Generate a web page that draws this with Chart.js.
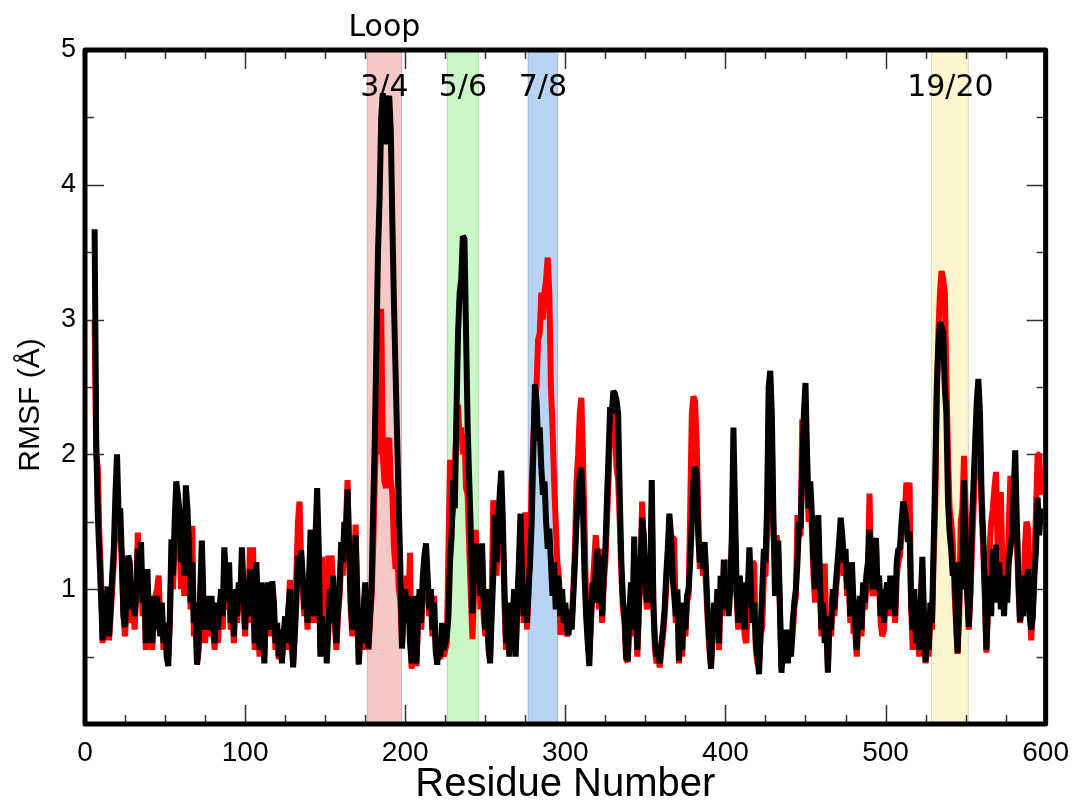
<!DOCTYPE html>
<html>
<head>
<meta charset="utf-8">
<script src="https://cdn.jsdelivr.net/npm/chart.js@4.4.1/dist/chart.umd.min.js"></script>
<style>
html,body{margin:0;padding:0;background:#fff;}
#wrap{width:1081px;height:805px;}
</style>
</head>
<body>
<div id="wrap"><canvas id="c" width="1081" height="805"></canvas></div>
<script>
// ---------------- data ----------------
const firstResidue = 6;

const rmsfBlack = [
3.67,2.1,1.55,1.25,0.95,0.62,0.9,0.75,1.02,0.65,
0.85,1.1,1.3,1.7,2.0,1.55,1.6,1.25,0.8,0.72,
0.95,1.25,1.2,0.85,1.05,0.8,0.95,1.3,1.0,1.35,
0.9,1.1,0.6,1.15,0.75,0.95,0.6,0.85,0.7,0.95,
0.8,0.65,0.9,0.6,0.75,0.5,0.43,0.8,1.37,1.1,
1.5,1.8,1.7,1.58,1.2,1.45,1.1,1.77,1.6,1.3,
0.9,1.2,0.75,0.9,0.44,0.6,1.0,1.36,0.9,0.7,
0.95,0.8,0.7,0.95,0.75,0.6,0.9,0.7,0.85,1.0,
0.8,1.31,1.1,0.9,1.2,0.75,0.95,0.65,1.0,0.8,
1.05,0.9,1.31,1.0,0.7,1.05,0.85,1.15,0.8,1.0,
0.6,1.2,0.9,0.55,1.05,0.8,0.45,0.9,1.05,0.7,
0.85,1.06,0.9,0.6,0.75,0.5,0.7,0.45,0.65,0.8,
0.6,0.85,1.0,0.7,0.42,0.65,0.9,1.25,1.05,1.29,
1.1,0.85,1.0,0.75,1.1,1.44,1.2,0.8,1.4,1.75,
1.3,0.5,0.8,0.6,0.75,0.45,0.7,1.0,0.75,1.1,
0.8,0.6,0.85,1.0,1.35,1.2,1.5,1.4,1.74,1.3,
0.9,0.7,1.1,1.4,1.0,0.44,0.7,0.6,0.85,1.05,
0.75,0.56,0.8,1.0,1.6,2.1,2.8,3.5,3.9,4.5,
4.68,4.5,4.3,4.6,4.66,4.4,3.7,3.1,2.6,2.1,
1.6,1.15,0.56,0.85,1.0,0.75,0.95,0.6,0.45,0.7,
0.95,0.45,0.8,1.0,0.75,1.1,1.25,1.34,1.1,0.85,
1.0,0.7,0.9,0.55,0.44,0.6,0.5,0.75,0.55,0.6,
0.65,0.8,1.2,1.4,1.81,1.6,2.3,2.9,3.2,3.3,
3.62,3.6,2.9,2.2,1.8,1.42,0.82,1.1,1.34,1.1,
1.3,0.95,1.34,0.9,0.7,1.0,0.6,0.45,0.8,1.1,
1.55,1.2,1.5,1.7,1.88,1.5,1.0,0.6,0.8,0.5,
0.9,0.7,1.0,0.5,0.9,1.2,1.56,1.1,0.8,1.0,
0.75,1.0,1.2,1.5,2.0,2.52,2.4,2.1,2.2,1.9,
1.7,1.8,1.5,1.3,1.45,1.2,0.95,1.2,0.85,1.1,
1.05,0.8,1.0,0.75,0.9,0.7,0.66,0.85,0.7,0.95,
1.2,1.5,1.7,1.85,1.9,1.6,1.1,0.8,0.6,0.43,
0.8,1.05,0.9,1.15,1.3,0.9,1.25,0.8,1.1,1.3,
1.66,2.0,2.35,2.3,2.47,2.45,2.4,2.3,1.7,1.2,
0.92,0.8,0.5,0.47,0.8,1.05,0.7,1.39,0.9,0.55,
0.9,1.2,1.53,1.4,1.1,0.9,1.2,1.0,1.81,0.9,
0.6,0.5,0.55,0.45,0.6,0.7,0.85,1.1,1.3,1.56,
1.4,1.1,0.95,0.8,1.0,0.47,0.8,0.55,0.9,0.7,
0.95,1.0,1.2,1.5,1.8,1.91,1.85,1.4,1.2,1.3,
1.15,1.35,1.1,0.8,0.6,0.41,0.7,0.9,0.75,1.0,
0.6,1.1,0.85,1.22,0.9,1.1,0.8,1.0,1.4,2.2,
1.6,1.0,0.75,1.1,0.8,1.0,0.7,1.05,1.0,1.31,
1.0,0.75,0.9,0.6,0.5,0.37,0.7,1.0,1.3,1.2,
1.6,2.5,2.62,2.3,1.5,0.95,1.1,1.36,0.9,0.38,
0.6,0.5,0.7,0.45,0.65,0.5,0.75,0.9,1.0,1.2,
1.5,1.45,1.9,2.3,2.53,2.0,1.6,1.8,1.55,1.2,
1.0,1.3,1.55,1.1,0.7,0.9,0.6,0.75,0.38,0.8,
0.7,1.0,0.85,1.05,1.2,1.35,1.53,1.4,1.2,1.3,
1.0,1.15,0.8,1.2,0.9,0.75,0.55,0.8,0.95,0.7,
1.05,0.9,1.1,1.2,1.44,1.2,1.0,1.3,1.38,1.0,
1.1,0.8,1.0,0.75,0.95,1.05,0.85,1.1,0.9,1.05,
0.8,1.2,1.3,1.3,1.5,1.65,1.6,1.5,1.35,1.43,
0.9,0.7,1.0,0.6,0.8,0.55,0.9,1.24,0.8,0.46,
0.7,0.55,0.9,0.75,1.3,1.8,2.5,2.8,2.98,2.95,
2.9,2.5,2.3,1.66,1.42,1.3,1.1,1.2,0.8,0.53,
0.9,1.2,1.0,1.81,1.3,0.95,0.72,1.0,1.5,1.8,
2.1,2.4,2.56,2.3,1.7,1.4,1.0,0.55,0.9,1.1,
0.8,1.3,1.1,1.33,0.9,1.2,0.85,1.1,0.8,1.05,
0.9,1.2,1.3,1.4,1.7,2.03,1.5,1.1,0.76,0.9,
0.8,1.1,1.0,1.15,0.8,0.7,0.8,1.1,1.3,1.68,
1.4,1.6
];

const rmsfRed = [
3.0,2.0,1.9,1.4,1.1,0.6,0.85,0.63,0.95,0.62,
0.8,1.0,1.2,1.5,1.6,1.35,1.45,1.2,0.82,0.65,
0.85,1.1,1.05,0.75,0.9,0.7,1.0,1.42,1.1,1.2,
0.8,1.0,0.55,1.05,0.7,0.9,0.55,0.8,0.95,1.0,
1.1,0.75,0.85,0.55,0.7,0.6,0.5,0.75,1.2,1.0,
1.35,1.6,1.5,1.4,1.0,1.3,0.95,1.55,1.4,1.2,
0.85,1.47,0.65,0.75,0.45,0.55,0.9,1.2,0.8,0.6,
0.85,0.7,0.65,0.9,0.7,0.55,0.85,0.6,0.8,0.95,
0.7,1.15,1.0,0.85,1.1,0.7,0.9,0.6,0.95,0.75,
0.95,0.85,1.2,0.9,0.65,1.0,0.8,1.31,0.75,1.31,
0.55,1.1,0.85,0.5,0.95,0.75,0.5,0.85,1.0,0.65,
0.8,1.0,0.77,0.55,0.7,0.48,0.65,0.5,0.6,0.75,
0.55,0.8,1.07,0.65,0.45,0.7,1.1,1.5,1.65,1.2,
1.0,0.8,0.95,0.7,1.0,1.44,1.1,0.75,1.3,1.6,
1.2,0.55,1.24,0.6,0.7,0.5,1.25,0.9,1.25,1.0,
0.75,0.55,0.8,0.95,1.2,1.1,1.4,1.5,1.81,1.2,
0.85,0.65,1.0,1.48,0.95,0.45,0.65,0.55,0.8,1.0,
0.7,0.55,0.75,0.95,1.3,1.8,2.2,2.0,2.5,3.08,
2.0,1.8,1.75,2.1,2.12,1.8,1.7,1.3,1.15,1.27,
1.0,0.9,0.6,0.8,0.9,1.1,0.85,1.27,0.41,0.65,
0.9,0.43,0.75,0.95,0.7,1.03,1.2,1.25,1.0,0.8,
0.95,0.65,0.95,0.6,0.5,0.55,0.48,0.7,0.5,0.55,
0.6,1.3,1.96,1.5,1.6,1.9,2.2,2.37,2.1,2.2,
2.0,2.15,1.75,1.7,1.3,0.95,0.63,1.0,1.44,1.2,
1.2,0.85,1.25,0.8,0.65,0.95,0.55,0.48,0.9,1.66,
1.4,1.1,1.4,1.6,1.7,1.35,0.9,0.55,0.75,0.52,
0.8,0.65,0.95,0.55,0.85,1.1,1.4,1.0,0.75,1.57,
0.7,0.95,1.3,1.8,2.1,2.4,2.5,2.85,2.9,3.2,
3.0,3.2,3.3,3.46,3.2,2.5,2.2,1.8,1.5,1.2,
1.1,0.66,0.95,0.7,0.85,0.65,0.7,0.8,0.75,1.0,
1.3,1.8,2.0,2.3,2.42,2.0,1.47,0.9,0.65,0.5,
0.75,1.0,1.2,1.4,1.25,0.85,1.3,0.75,1.05,1.2,
1.5,1.8,2.2,2.1,2.3,2.2,1.9,1.81,1.5,1.1,
0.85,0.75,0.48,0.46,0.75,1.0,0.65,1.3,0.85,0.5,
0.85,1.15,1.65,1.3,1.0,0.85,1.1,0.95,1.6,0.85,
0.55,0.45,0.5,0.42,0.55,0.65,0.8,1.0,1.25,1.45,
1.3,1.38,1.38,0.75,0.95,0.45,0.75,0.5,0.85,0.65,
0.9,0.95,1.6,2.3,2.43,2.4,2.1,1.6,1.15,1.25,
1.1,1.25,1.0,0.75,0.55,0.43,0.65,0.85,0.7,0.95,
0.55,1.0,0.8,1.1,0.85,1.0,1.22,0.95,1.3,1.9,
1.4,0.95,0.7,1.0,0.75,0.95,0.65,0.6,0.9,1.2,
0.95,1.2,1.19,0.55,0.45,0.44,0.65,0.73,1.1,1.1,
1.4,2.2,2.4,2.1,1.4,1.3,1.4,1.25,0.85,0.42,
0.55,0.48,0.65,0.5,0.6,0.55,0.67,0.85,0.95,1.55,
1.4,1.4,2.26,2.2,2.3,1.8,1.5,1.7,1.45,1.1,
0.9,1.2,1.45,1.0,0.65,0.85,1.19,0.7,0.42,0.75,
0.65,0.95,0.8,1.0,1.1,1.25,1.4,1.3,1.1,1.2,
0.95,1.05,0.75,1.1,0.67,0.7,0.5,0.75,0.9,0.65,
1.0,0.85,1.0,1.15,1.71,1.1,0.95,1.2,1.38,0.95,
1.0,0.75,0.65,0.7,0.9,1.0,0.8,1.0,0.85,1.0,
0.75,1.1,1.2,1.25,1.4,1.5,1.55,1.79,1.7,1.79,
0.85,0.55,0.9,0.55,0.75,0.5,0.85,1.15,0.75,0.45,
0.65,0.5,0.85,0.7,1.2,1.6,2.4,2.9,3.2,3.36,
3.3,3.2,2.6,2.0,1.6,1.5,1.35,1.0,0.75,0.52,
0.8,1.5,1.6,1.99,1.6,1.1,0.7,0.95,1.3,1.6,
1.9,2.2,2.4,2.1,1.6,1.3,0.95,0.53,0.85,1.3,
1.5,1.6,1.75,1.87,1.3,1.5,1.72,1.2,0.9,1.1,
0.95,1.5,1.84,1.6,1.6,1.8,1.4,1.0,0.75,0.85,
0.9,1.3,1.5,1.45,1.0,0.62,0.85,1.2,1.6,2.0,
2.0,1.7
];

// loop regions (residue ranges) and their labels
const loopLabels  = ['3/4', '5/6', '7/8', '19/20'];
const loopStart   = [176, 226, 276.5, 528.5];
const loopEnd     = [198, 246, 295.5, 552];
const loopLabelAt = [187, 236, 286, 540.5];
const loopColors  = ['#f6c8c8', '#c9f7c6', '#b8d4f5', '#fdf6cf'];

const xTickMajor = 100, xTickMinor = 25;
const yTickMajor = 1, yTickMinor = 0.5;

// ---------------- build ----------------
const toPoints = arr => arr.map((v, i) => ({x: firstResidue + i, y: v}));

const bandsPlugin = {
  id: 'bands',
  beforeDatasetsDraw(chart) {
    const {ctx, chartArea: a, scales: {x}} = chart;
    ctx.save();
    for (let i = 0; i < loopStart.length; i++) {
      const x0 = x.getPixelForValue(loopStart[i]);
      const x1 = x.getPixelForValue(loopEnd[i]);
      ctx.fillStyle = loopColors[i];
      ctx.fillRect(x0, a.top, x1 - x0, a.bottom - a.top);
      ctx.strokeStyle = 'rgba(0,0,0,0.12)';
      ctx.lineWidth = 1;
      ctx.beginPath();
      ctx.moveTo(x0 + 0.5, a.top); ctx.lineTo(x0 + 0.5, a.bottom);
      ctx.moveTo(x1 - 0.5, a.top); ctx.lineTo(x1 - 0.5, a.bottom);
      ctx.stroke();
    }
    // tick marks (inward, all four sides)
    ctx.strokeStyle = '#333';
    ctx.lineWidth = 1.5;
    ctx.beginPath();
    for (let v = x.min; v <= x.max + 1e-9; v += xTickMinor) {
      const px = Math.round(x.getPixelForValue(v)) + 0.5;
      const len = (Math.abs(v % xTickMajor) < 1e-9) ? 19 : 9;
      ctx.moveTo(px, a.bottom); ctx.lineTo(px, a.bottom - len);
      ctx.moveTo(px, a.top); ctx.lineTo(px, a.top + len);
    }
    const y = chart.scales.y;
    for (let v = y.min; v <= y.max + 1e-9; v += yTickMinor) {
      const py = Math.round(y.getPixelForValue(v)) + 0.5;
      const len = (Math.abs((v / yTickMajor) - Math.round(v / yTickMajor)) < 1e-9) ? 19 : 9;
      ctx.moveTo(a.left, py); ctx.lineTo(a.left + len, py);
      ctx.moveTo(a.right, py); ctx.lineTo(a.right - len, py);
    }
    ctx.stroke();
    ctx.restore();
  },
  afterDatasetsDraw(chart) {
    const {ctx, chartArea: a, scales: {x}} = chart;
    ctx.save();
    ctx.strokeStyle = '#000';
    ctx.lineWidth = 5;
    ctx.lineJoin = 'round';
    ctx.strokeRect(a.left, a.top, a.right - a.left, a.bottom - a.top);
    // labels
    ctx.fillStyle = '#000';
    ctx.textAlign = 'center';
    ctx.textBaseline = 'alphabetic';
    ctx.font = '30px "DejaVu Sans"';
    for (let i = 0; i < loopLabels.length; i++) {
      ctx.fillText(loopLabels[i], x.getPixelForValue(loopLabelAt[i]), 96);
    }
    ctx.fillText('Loop', x.getPixelForValue(loopLabelAt[0]), 36);
    // y axis title
    ctx.save();
    ctx.font = '30px "Liberation Sans", Arial, sans-serif';
    ctx.textBaseline = 'middle';
    ctx.translate(31, 405);
    ctx.rotate(-Math.PI / 2);
    ctx.fillText('RMSF (Å)', 0, 0);
    ctx.restore();
    ctx.restore();
  }
};

new Chart(document.getElementById('c'), {
  type: 'line',
  data: {
    datasets: [
      {
        label: 'black',
        data: toPoints(rmsfBlack),
        borderColor: '#000000',
        borderWidth: 6,
        pointRadius: 0,
        tension: 0,
        fill: false,
        borderJoinStyle: 'bevel',
        order: 1
      },
      {
        label: 'red',
        data: toPoints(rmsfRed),
        borderColor: '#ff0000',
        borderWidth: 6,
        pointRadius: 0,
        tension: 0,
        fill: false,
        borderJoinStyle: 'bevel',
        order: 2
      }
    ]
  },
  options: {
    responsive: false,
    devicePixelRatio: 1,
    animation: false,
    events: [],
    layout: {padding: {top: 50, right: 33, left: 0, bottom: 0}},
    plugins: {legend: {display: false}, tooltip: {enabled: false}},
    scales: {
      x: {
        type: 'linear', min: 0, max: 600,
        grid: {display: false, drawTicks: false},
        border: {display: false},
        ticks: {stepSize: 100, color: '#000', padding: 12, maxRotation: 0, autoSkip: false,
                font: {family: '"Liberation Sans", Arial, sans-serif', size: 28}},
        title: {display: true, text: 'Residue Number', color: '#000',
                font: {family: '"Liberation Sans", Arial, sans-serif', size: 40, lineHeight: 1.0},
                padding: {top: 0, bottom: 0}},
        afterFit: s => { s.height = 81; }
      },
      y: {
        min: 0, max: 5,
        grid: {display: false, drawTicks: false},
        border: {display: false},
        ticks: {stepSize: 1, color: '#000', padding: 9,
                callback: v => (v === 0 ? '' : v),
                font: {family: '"Liberation Sans", Arial, sans-serif', size: 27}},
        title: {display: false},
        afterFit: s => { s.width = 85; }
      }
    }
  },
  plugins: [bandsPlugin]
});
</script>
</body>
</html>
